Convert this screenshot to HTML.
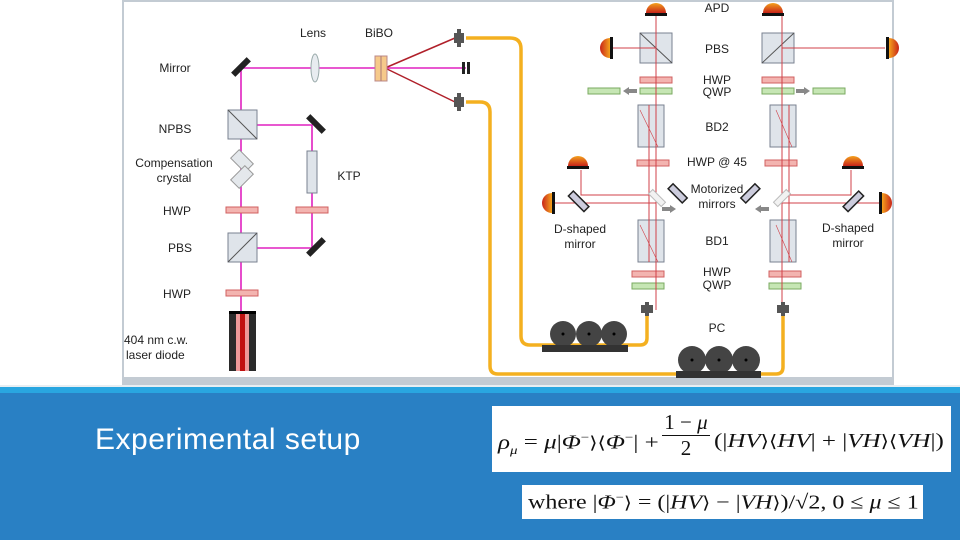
<!DOCTYPE html>
<html><head><meta charset="utf-8"><style>
html,body{margin:0;padding:0}
body{width:960px;height:540px;position:relative;overflow:hidden;background:#fff;font-family:"Liberation Sans",sans-serif}
.band{position:absolute;left:0;top:387px;width:960px;height:153px;background:#2980c4}
.strip{position:absolute;left:0;top:387px;width:960px;height:6px;background:#29a6e0}
.title{position:absolute;left:95px;top:423px;color:#fff;font-size:30px;font-weight:300;letter-spacing:0.5px}
.f1{position:absolute;left:492px;top:406px;width:459px;height:66px;background:#fff;font-family:"Liberation Serif","DejaVu Serif",serif;font-size:20px;color:#111}
.f2{position:absolute;left:522px;top:485px;width:401px;height:34px;background:#fff;font-family:"Liberation Serif","DejaVu Serif",serif;font-size:20px;color:#111}
.b{font-family:"DejaVu Serif",serif;font-size:17px}
.s{transform-origin:0 50%;white-space:nowrap;position:absolute}
</style></head><body>
<svg width="960" height="390" style="position:absolute;left:0;top:0" font-family="Liberation Sans, sans-serif" font-size="12" fill="#222">
<defs>
<linearGradient id="dg" x1="0" y1="0" x2="0" y2="1"><stop offset="0" stop-color="#f4a21c"/><stop offset="1" stop-color="#c8241a"/></linearGradient>
<linearGradient id="dgl" x1="1" y1="0" x2="0" y2="0"><stop offset="0" stop-color="#f4a21c"/><stop offset="1" stop-color="#c8241a"/></linearGradient>
<linearGradient id="dgr" x1="0" y1="0" x2="1" y2="0"><stop offset="0" stop-color="#f4a21c"/><stop offset="1" stop-color="#c8241a"/></linearGradient>
</defs>
<rect x="122" y="0" width="772" height="386" fill="#c3cbd3"/>
<rect x="124" y="2" width="768" height="375" fill="#fff"/>
<rect x="0" y="385" width="960" height="3" fill="#e8eef2"/>

<g stroke="#e020c0" stroke-width="1.6" fill="none">
<path d="M241 68 H466"/><path d="M241 68 V312"/>
<path d="M241 125 H312 V248 H241"/>
</g>
<g stroke="#b0202a" stroke-width="1.5"><path d="M385 68 L455 38 M385 68 L455 102"/></g>
<g fill="#222"><rect x="230" y="64" width="22" height="6" transform="rotate(-45 241 67)"/>
<rect x="305" y="121" width="22" height="6" transform="rotate(45 316 124)"/>
<rect x="305" y="244" width="22" height="6" transform="rotate(-45 316 247)"/></g>
<ellipse cx="315" cy="68" rx="4" ry="14" fill="#e8ecf0" stroke="#9aa" />
<rect x="375" y="56" width="12" height="25" fill="#f6c98a" stroke="#b88"/>
<line x1="381" y1="56" x2="381" y2="81" stroke="#a77"/>
<g fill="#dfe4ea" stroke="#7a8290" stroke-width="1">
<rect x="228" y="110" width="29" height="29"/><rect x="228" y="233" width="29" height="29"/>
<rect x="307" y="151" width="10" height="42"/>
<rect x="638" y="105" width="26" height="42"/><rect x="638" y="220" width="26" height="42"/>
<rect x="770" y="105" width="26" height="42"/><rect x="770" y="220" width="26" height="42"/>
<rect x="640" y="33" width="32" height="30"/><rect x="762" y="33" width="32" height="30"/>
</g>
<g stroke="#555" stroke-width="1"><path d="M228 110 L257 139 M228 262 L257 233 M640 33 L672 63 M762 63 L794 33"/></g>
<g fill="#e4e8ec" stroke="#999"><rect x="232" y="155" width="20" height="12" transform="rotate(45 242 161)"/><rect x="232" y="171" width="20" height="12" transform="rotate(-45 242 177)"/></g>
<g fill="#f3b4b0" stroke="#d06060">
<rect x="226" y="207" width="32" height="6"/><rect x="296" y="207" width="32" height="6"/><rect x="226" y="290" width="32" height="6"/>
<rect x="640" y="77" width="32" height="6"/><rect x="762" y="77" width="32" height="6"/>
<rect x="637" y="160" width="32" height="6"/><rect x="765" y="160" width="32" height="6"/>
<rect x="632" y="271" width="32" height="6"/><rect x="769" y="271" width="32" height="6"/>
</g>
<g fill="#c6e6b4" stroke="#7aaa60">
<rect x="640" y="88" width="32" height="6"/><rect x="762" y="88" width="32" height="6"/>
<rect x="588" y="88" width="32" height="6"/><rect x="813" y="88" width="32" height="6"/>
<rect x="632" y="283" width="32" height="6"/><rect x="769" y="283" width="32" height="6"/>
</g>
<rect x="229" y="311" width="27" height="60" fill="#2a2a2a"/><rect x="229" y="311" width="27" height="3" fill="#000"/>
<rect x="236" y="314" width="13" height="57" fill="#e99"/><rect x="240" y="314" width="5" height="57" fill="#c01010"/>

<g stroke="#d04048" stroke-width="1" fill="none">
<path d="M656 10 V310 M649 105 V262"/>
<path d="M782 10 V310 M789 105 V262"/>
<path d="M610 48 H656 M782 48 H885"/>
<path d="M581 170 V195 H656 M552 203 H656"/>
<path d="M851 170 V195 H782 M882 203 H782"/>
<path d="M640 110 L658 147 M776 110 L792 147 M640 225 L658 262 M776 225 L792 262" stroke-width="0.6"/>
</g>
<g fill="#f2f2f2" stroke="#bbb"><rect x="648" y="195" width="18" height="6" transform="rotate(45 657 198)"/><rect x="773" y="195" width="18" height="6" transform="rotate(-45 782 198)"/></g>
<g fill="#ccd" stroke="#222" stroke-width="1.5">
<rect x="668" y="190" width="20" height="7" transform="rotate(45 678 193)"/>
<rect x="740" y="190" width="20" height="7" transform="rotate(-45 750 193)"/>
<rect x="568" y="198" width="22" height="7" transform="rotate(45 579 201)"/>
<rect x="842" y="198" width="22" height="7" transform="rotate(-45 853 201)"/>
</g>
<g fill="#888"><path d="M623 91 l6 -4 v2 h8 v4 h-8 v2z"/><path d="M810 91 l-6 -4 v2 h-8 v4 h8 v2z"/>
<path d="M676 209 l-6 -4 v2 h-8 v4 h8 v2z"/><path d="M755 209 l6 -4 v2 h8 v4 h-8 v2z"/></g>
<g>
<path d="M646 13 a10 10 0 0 1 20 0z" fill="url(#dg)"/><rect x="645" y="13" width="22" height="3" fill="#111"/>
<path d="M763 13 a10 10 0 0 1 20 0z" fill="url(#dg)"/><rect x="762" y="13" width="22" height="3" fill="#111"/>
<path d="M568 166 a10 10 0 0 1 20 0z" fill="url(#dg)"/><rect x="567" y="166" width="22" height="3" fill="#111"/>
<path d="M843 166 a10 10 0 0 1 20 0z" fill="url(#dg)"/><rect x="842" y="166" width="22" height="3" fill="#111"/>
<path d="M610 38 a10 10 0 0 0 0 20z" fill="url(#dgl)"/><rect x="610" y="37" width="3" height="22" fill="#111"/>
<path d="M889 38 a10 10 0 0 1 0 20z" fill="url(#dgr)"/><rect x="886" y="37" width="3" height="22" fill="#111"/>
<path d="M552 193 a10 10 0 0 0 0 20z" fill="url(#dgl)"/><rect x="552" y="192" width="3" height="22" fill="#111"/>
<path d="M882 193 a10 10 0 0 1 0 20z" fill="url(#dgr)"/><rect x="879" y="192" width="3" height="22" fill="#111"/>
</g>
<g stroke="#f4b020" stroke-width="3.5" fill="none">
<path d="M466 38 H510 q11 0 11 11 V336 q0 9 9 9 H640 q7 0 7 -7 V315"/>
<path d="M466 102 H480 q10 0 10 10 V366 q0 8 8 8 H776 q7 0 7 -7 V315"/>
</g>
<g fill="#555"><rect x="454" y="33" width="10" height="10"/><rect x="457" y="29" width="4" height="18"/>
<rect x="454" y="97" width="10" height="10"/><rect x="457" y="93" width="4" height="18"/>
<rect x="462" y="62" width="3" height="12" fill="#222"/><rect x="467" y="62" width="3" height="12" fill="#222"/>
<rect x="641" y="305" width="12" height="8"/><rect x="645" y="302" width="4" height="14"/>
<rect x="777" y="305" width="12" height="8"/><rect x="781" y="302" width="4" height="14"/></g>
<g fill="#444"><circle cx="563" cy="334" r="13"/><circle cx="589" cy="334" r="13"/><circle cx="614" cy="334" r="13"/>
<rect x="542" y="345" width="86" height="7" fill="#333"/>
<circle cx="692" cy="360" r="14"/><circle cx="719" cy="360" r="14"/><circle cx="746" cy="360" r="14"/>
<rect x="676" y="371" width="85" height="7" fill="#333"/></g>
<g fill="#000"><circle cx="563" cy="334" r="1.5"/><circle cx="589" cy="334" r="1.5"/><circle cx="614" cy="334" r="1.5"/>
<circle cx="692" cy="360" r="1.5"/><circle cx="719" cy="360" r="1.5"/><circle cx="746" cy="360" r="1.5"/></g>
<g text-anchor="middle">
<text x="313" y="37">Lens</text><text x="379" y="37">BiBO</text>
<text x="175" y="72">Mirror</text><text x="175" y="133">NPBS</text>
<text x="174" y="167">Compensation</text><text x="174" y="182">crystal</text>
<text x="177" y="215">HWP</text><text x="180" y="252">PBS</text><text x="177" y="298">HWP</text>
<text x="349" y="180">KTP</text>
<text x="717" y="12">APD</text><text x="717" y="53">PBS</text><text x="717" y="84">HWP</text><text x="717" y="96">QWP</text>
<text x="717" y="131">BD2</text><text x="717" y="166">HWP @ 45</text>
<text x="717" y="193">Motorized</text><text x="717" y="208">mirrors</text>
<text x="717" y="245">BD1</text><text x="717" y="276">HWP</text><text x="717" y="289">QWP</text>
<text x="717" y="332">PC</text>
<text x="580" y="233">D-shaped</text><text x="580" y="248">mirror</text>
<text x="848" y="232">D-shaped</text><text x="848" y="247">mirror</text>
</g>
<text x="124" y="344">404 nm c.w.</text><text x="126" y="359">laser diode</text>
</svg>
<div class="band"></div><div class="strip"></div>
<div class="title">Experimental setup</div>
<div class="f1"><div class="s" style="left:6px;top:24px;transform:scaleX(1.25)"><i>ρ<sub style="font-size:12px">μ</sub></i> = <i>μ</i>|<i>Φ</i><sup style="font-size:12px">−</sup><span class="b">⟩⟨</span><i>Φ</i><sup style="font-size:12px">−</sup>| +</div>
<div style="position:absolute;left:170px;top:4px;width:48px;text-align:center;line-height:25px;font-size:21px">1 − <i>μ</i><div style="border-top:1px solid #111"></div>2</div>
<div class="s" style="left:222px;top:24px;transform:scaleX(1.25)">(|<i>HV</i><span class="b">⟩⟨</span><i>HV</i>| + |<i>VH</i><span class="b">⟩⟨</span><i>VH</i>|)</div></div>
<div class="f2"><div class="s" style="left:6px;top:5px;transform:scaleX(1.2)">where |<i>Φ</i><sup style="font-size:12px">−</sup><span class="b">⟩</span> = (|<i>HV</i><span class="b">⟩</span> − |<i>VH</i><span class="b">⟩</span>)/√2, 0 ≤ <i>μ</i> ≤ 1</div></div>
</body></html>
